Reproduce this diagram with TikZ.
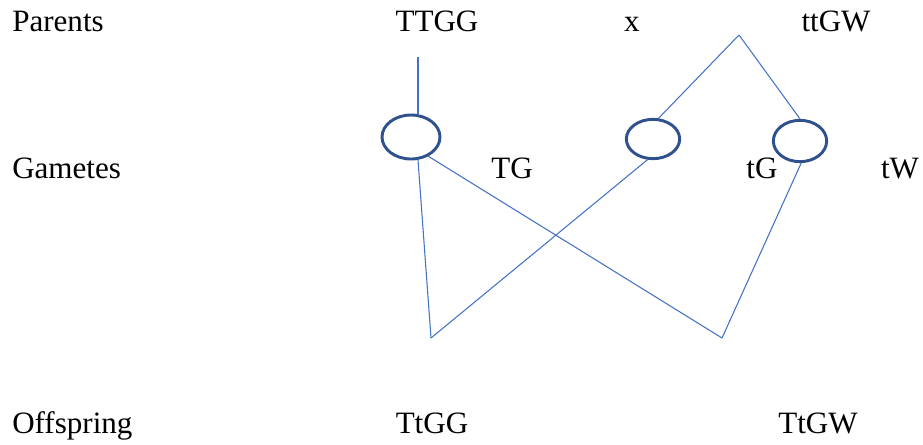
\documentclass[tikz,border=0pt]{standalone}
\usepackage{fontspec}
\setmainfont{Liberation Serif}
\usetikzlibrary{shapes.geometric}
\definecolor{lineBlue}{RGB}{68,114,196}
\definecolor{ringBlue}{RGB}{47,82,143}
\tikzset{
  lbl/.style={anchor=base, inner sep=0pt, font=\fontsize{23.3}{28}\selectfont},
  rowlbl/.style={lbl, anchor=base west},
  gamete/.style={ellipse, draw=ringBlue, line width=2.2pt, inner sep=0pt,
                 minimum width=43.5pt, minimum height=33pt},
  cross/.style={draw=lineBlue, line width=0.8pt}
}
\begin{document}
\begin{tikzpicture}[x=0.75pt, y=-0.75pt]
\useasboundingbox (0,0) rectangle (923,444);
% row labels
\node[rowlbl] (rP) at (12,31) {Parents};
\node[rowlbl] (rG) at (12,178) {Gametes};
\node[rowlbl] (rO) at (12,433) {Offspring};
% parents
\node[lbl] (pA) at (437,31) {TTGG};
\node[lbl] (px) at (632,31) {x};
\node[lbl] (pB) at (836,31) {ttGW};
% gametes
\node[gamete] (g1) at (411,137) {};
\node[gamete, minimum width=40pt, minimum height=29.5pt] (g2) at (653,139) {};
\node[gamete, minimum width=40pt, minimum height=31pt] (g3) at (800,141) {};
\node[lbl] (gTG) at (512,178) {TG};
\node[lbl] (gtG) at (762,178) {tG};
\node[lbl] (gtW) at (900,178) {tW};
% offspring
\node[lbl] (oA) at (432,433) {TtGG};
\node[lbl] (oB) at (818,433) {TtGW};
% joints of the cross
\coordinate (pa) at (418,57);
\coordinate (pb) at (739,35);
\coordinate (o1) at (431,338);
\coordinate (o2) at (722,338);
\draw[cross] (pa) -- (g1.north -| pa);
\draw[cross] (pb) -- (g2.75);
\draw[cross] (pb) -- (g3.north);
\draw[cross] (g1.-73) -- (o1);
\draw[cross] (g1.-48) -- (o2);
\draw[cross] (g2.-105) -- (o1);
\draw[cross] (g3.-87) -- (o2);
\end{tikzpicture}
\end{document}
